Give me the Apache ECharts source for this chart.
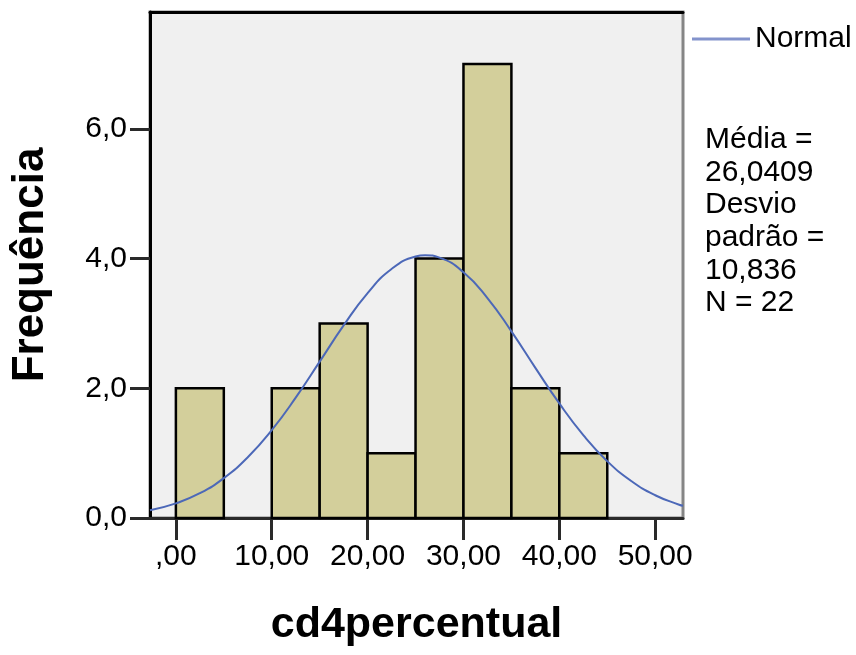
<!DOCTYPE html>
<html>
<head>
<meta charset="utf-8">
<script src="https://cdn.jsdelivr.net/npm/echarts@6/dist/echarts.min.js"></script>
<style>html,body{margin:0;padding:0;background:#fff}#c{width:856px;height:655px}</style>
</head>
<body>
<div id="c"></div>
<script>
// Histogram bins (start, end) and frequencies
const binStarts = [0, 5, 10, 15, 20, 25, 30, 35, 40];
const binEnds   = [5, 10, 15, 20, 25, 30, 35, 40, 45];
const counts    = [2, 0, 2, 3, 1, 4, 7, 2, 1];
// Normal curve points
const curveX = [-2.7, 0, 2.5, 5, 7.5, 10, 12.5, 15, 17.5, 20, 22.5, 25, 26, 27.5, 30, 32.5, 35, 37.5, 40, 42.5, 45, 47.5, 50, 52.5, 52.9];
const curveY = [0.12, 0.226, 0.382, 0.615, 0.937, 1.354, 1.855, 2.41, 2.969, 3.468, 3.839, 4.031, 4.05, 4.013, 3.788, 3.391, 2.877, 2.315, 1.766, 1.278, 0.876, 0.57, 0.351, 0.205, 0.188];
const xTicks = [0, 10, 20, 30, 40, 50];
const yTicks = [0, 2, 4, 6];
const statsLines = ['Média =', '26,0409', 'Desvio', 'padrão =', '10,836', 'N = 22'];

const fmt2 = v => (v === 0 ? ',00' : v.toFixed(2).replace('.', ','));
const fmt1 = v => v.toFixed(1).replace('.', ',');

const chart = echarts.init(document.getElementById('c'));
const FONT = 'Liberation Sans, Arial, sans-serif';

const barData = binStarts.map((s, i) => [s, binEnds[i], counts[i]]);
const curveData = curveX.map((x, i) => [x, curveY[i]]);

chart.setOption({
  animation: false,
  backgroundColor: '#ffffff',
  grid: {
    left: 150, top: 12, right: 173, bottom: 137,
    show: true, backgroundColor: '#f0f0f0', borderColor: '#858585', borderWidth: 3
  },
  legend: {
    show: true,
    data: ['Normal'],
    left: 687, top: 19,
    itemWidth: 58, itemHeight: 3, itemGap: 6,
    icon: 'rect',
    textStyle: { fontFamily: FONT, fontSize: 30, color: '#000', padding: [0, 0, 0, 0] }
  },
  xAxis: [{
    type: 'value', min: -2.7, max: 52.9,
    name: 'cd4percentual', nameLocation: 'middle', nameGap: 86,
    nameTextStyle: { fontFamily: FONT, fontSize: 43, fontWeight: 'bold', color: '#000' },
    splitLine: { show: false },
    axisLine: { show: true, onZero: false, lineStyle: { color: '#2a2a2a', width: 3 } },
    axisTick: { show: true, customValues: xTicks, length: 22, lineStyle: { color: '#2a2a2a', width: 3 } },
    axisLabel: { customValues: xTicks, formatter: fmt2, margin: 24, fontFamily: FONT, fontSize: 30, color: '#000' }
  }, {
    type: 'value', position: 'top', min: -2.7, max: 52.9,
    splitLine: { show: false },
    axisLine: { show: true, onZero: false, lineStyle: { color: '#000', width: 3 } },
    axisTick: { show: false }, axisLabel: { show: false }
  }],
  yAxis: {
    type: 'value', min: 0, max: 7.8, interval: 2,
    name: 'Frequência', nameLocation: 'middle', nameGap: 97,
    nameTextStyle: { fontFamily: FONT, fontSize: 44, fontWeight: 'bold', color: '#000' },
    splitLine: { show: false },
    axisLine: { show: true, onZero: false, lineStyle: { color: '#000', width: 3 } },
    axisTick: { show: true, customValues: yTicks, length: 20, lineStyle: { color: '#2a2a2a', width: 3 } },
    axisLabel: { customValues: yTicks, formatter: fmt1, margin: 23, fontFamily: FONT, fontSize: 30, color: '#000' }
  },
  series: [{
    type: 'custom',
    name: 'hist',
    xAxisIndex: 0,
    data: barData,
    renderItem: function (params, api) {
      if (api.value(2) === 0) return null;
      const p0 = api.coord([api.value(0), api.value(2)]);
      const p1 = api.coord([api.value(1), 0]);
      return {
        type: 'rect',
        shape: { x: p0[0], y: p0[1], width: p1[0] - p0[0], height: p1[1] - p0[1] },
        style: { fill: '#d3cf9b', stroke: '#000', lineWidth: 2.5 }
      };
    },
    encode: { x: [0, 1], y: 2 },
    z: 2
  }, {
    type: 'line',
    name: 'Normal',
    data: curveData,
    smooth: true,
    showSymbol: false,
    lineStyle: { color: '#4c68b8', width: 2 },
    itemStyle: { color: '#8393cc' },
    z: 3
  }],
  graphic: statsLines.map((t, i) => ({
    type: 'text', left: 705, top: 125 + i * 32.6,
    style: { text: t, fontFamily: FONT, fontSize: 30, fill: '#000' }
  }))
});
</script>
</body>
</html>
